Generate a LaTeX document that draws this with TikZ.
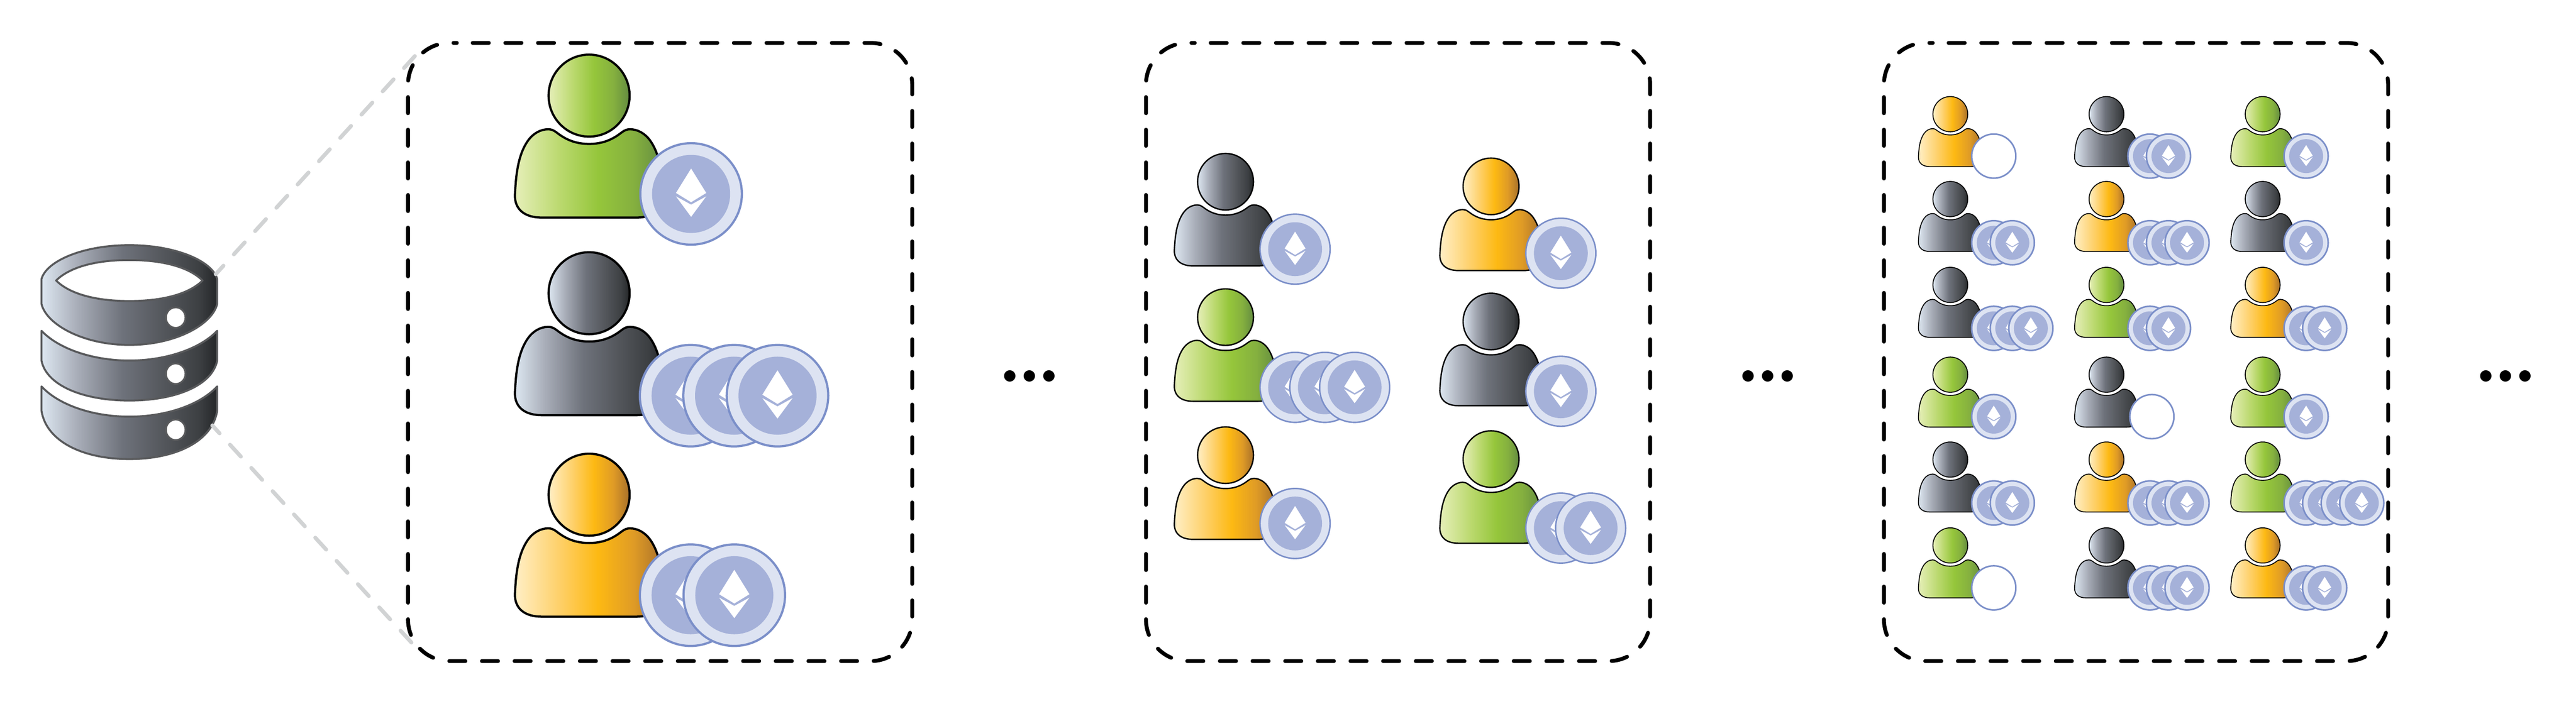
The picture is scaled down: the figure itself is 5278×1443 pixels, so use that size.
\documentclass[tikz,border=0pt]{standalone}
\definecolor{gyA}{HTML}{DDE7F1}\definecolor{gyB}{HTML}{A9AEB9}\definecolor{gyC}{HTML}{6E727B}\definecolor{gyD}{HTML}{53565B}\definecolor{gyE}{HTML}{3C3F42}\definecolor{gyF}{HTML}{242628}
\definecolor{grA}{HTML}{E6EFB9}\definecolor{grB}{HTML}{BBD96F}\definecolor{grC}{HTML}{95C63B}\definecolor{grD}{HTML}{85B03F}\definecolor{grE}{HTML}{638C40}
\definecolor{orA}{HTML}{FFEFC6}\definecolor{orB}{HTML}{FED069}\definecolor{orC}{HTML}{FDB913}\definecolor{orD}{HTML}{DF9B26}\definecolor{orE}{HTML}{A8702A}
\definecolor{coinrim}{HTML}{DDE3F2}\definecolor{coinmid}{HTML}{A5B1D9}\definecolor{coinline}{HTML}{7B8FC9}
\definecolor{dbline}{HTML}{58595B}\definecolor{linkgrey}{HTML}{D1D3D4}
\pgfdeclarehorizontalshading{shgray}{100bp}{color(0bp)=(gyA);color(25bp)=(gyA);color(35bp)=(gyB);color(48bp)=(gyC);color(60bp)=(gyD);color(70bp)=(gyE);color(75bp)=(gyF);color(100bp)=(gyF)}
\pgfdeclarehorizontalshading{shgreen}{100bp}{color(0bp)=(grA);color(25bp)=(grA);color(40bp)=(grB);color(53bp)=(grC);color(65bp)=(grD);color(75bp)=(grE);color(100bp)=(grE)}
\pgfdeclarehorizontalshading{shorange}{100bp}{color(0bp)=(orA);color(25bp)=(orA);color(40bp)=(orB);color(53bp)=(orC);color(65bp)=(orD);color(75bp)=(orE);color(100bp)=(orE)}
\tikzset{
  panelbox/.style={draw=black,line width=0.08cm,line cap=round,dash pattern=on 0.33cm off 0.3385cm,dash phase=0.344cm,rounded corners=0.85cm},
  linkline/.style={draw=linkgrey,line width=0.08cm,line cap=round,dash pattern=on 0.33cm off 0.316cm},
  dbpart/.style={shading=shgray,draw=dbline,line width=0.04cm,line join=round},
  dbhole/.style={fill=white,draw=dbline,line width=0.035cm},
  dotstext/.style={inner sep=0pt,font=\fontsize{46}{46}\selectfont\bfseries}
}
% person: head centre x, y, scale, shading, line width (px)
\newcommand{\person}[5]{%
  \begin{scope}[shift={(#1,#2)},scale=#3]
    \path[shading=#4,draw=black,line width=#5*0.01cm,line join=round]
      (-66,76) .. controls (-48,90) and (-28,99) .. (0,99)
      .. controls (28,99) and (48,90) .. (66,76)
      .. controls (74,70) and (78,69) .. (84,69)
      .. controls (100,69) and (115,78) .. (125,92)
      .. controls (145,120) and (150,160) .. (152,205)
      .. controls (152,235) and (130,250) .. (97,250)
      -- (-97,250)
      .. controls (-130,250) and (-152,235) .. (-152,205)
      .. controls (-150,160) and (-145,120) .. (-125,92)
      .. controls (-115,78) and (-100,69) .. (-84,69)
      .. controls (-78,69) and (-74,70) .. (-66,76) -- cycle;
    \path[shading=#4,draw=black,line width=#5*0.01cm] (0,0) ellipse[x radius=83,y radius=84];
  \end{scope}}
% coin with the ether mark
\newcommand{\coin}[4]{%
  \begin{scope}[shift={(#1,#2)},scale=#3]
    \path[fill=coinrim,draw=coinline,line width=#4*0.01cm] (0,0) circle[radius=104];
    \fill[coinmid] (0,0) circle[radius=80];
    \fill[white] (0,-52) -- (31,-2) -- (0,17) -- (-31,-2) -- cycle;
    \fill[white] (-31,5) -- (0,22) -- (31,5) -- (0,47) -- cycle;
  \end{scope}}
\newcommand{\emptycoin}[4]{%
  \path[fill=white,draw=coinline,line width=#4*0.01cm] (#1,#2) circle[radius=104*#3];}
% stack: x, y, scale, line width, step, count
\newcommand{\coins}[6]{%
  \foreach \ci in {1,...,#6}{\pgfmathsetmacro{\cx}{#1+(\ci-1)*#5}\coin{\cx}{#2}{#3}{#4}}}
\newcommand{\panel}[1]{%
  \path[panelbox] (#1+100,88) -- (#1+1033,88) -- (#1+1033,1355) -- (#1,1355) -- (#1,88) -- (#1+100,88);}
\newcommand{\minip}[5]{% x,y head, shading, coin y, n
  \person{#1}{#2}{0.43}{#3}{1.9}
  \coins{#1+89}{#4}{0.435}{3.2}{38}{#5}}
\newcommand{\minipnone}[5]{%
  \person{#1}{#2}{0.43}{#3}{1.9}
  \emptycoin{#1+#5}{#4}{0.435}{3.2}}
\begin{document}
\begin{tikzpicture}[x=0.01cm,y=-0.01cm]
\useasboundingbox (0,0) rectangle (5278,1443);
\fill[white] (0,0) rectangle (5278,1443);
% database
\path[dbpart] (85,572) -- (85,623) .. controls (95,665) and (170,707) .. (265,707) .. controls (360,707) and (435,665) .. (445,623) -- (445,572) .. controls (435,535) and (360,502.5) .. (265,502.5) .. controls (170,502.5) and (95,535) .. (85,572) -- cycle;
\path[fill=white,draw=dbline,line width=0.04cm,line join=round] (115,575) .. controls (140,550) and (190,533) .. (265,533) .. controls (340,533) and (390,550) .. (415,575) .. controls (390,600) and (340,617) .. (265,617) .. controls (190,617) and (140,600) .. (115,575) -- cycle;
\path[dbhole] (360,651) ellipse[x radius=20,y radius=21];
\path[dbpart] (85,678) -- (85,739) .. controls (95,790) and (170,821) .. (265,821) .. controls (360,821) and (435,790) .. (445,739) -- (445,678) .. controls (410,715) and (340,739) .. (265,739) .. controls (190,739) and (120,715) .. (85,678) -- cycle;
\path[dbhole] (360,766) ellipse[x radius=20,y radius=21];
\path[dbpart] (85,792) -- (85,842) .. controls (95,905) and (170,941) .. (265,941) .. controls (360,941) and (435,905) .. (445,842) -- (445,792) .. controls (410,830) and (340,854) .. (265,854) .. controls (190,854) and (120,830) .. (85,792) -- cycle;
\path[dbhole] (360,881) ellipse[x radius=20,y radius=21];
% panels
\panel{836}\panel{2348}\panel{3860}
% links
\coordinate (dbtop) at (442,562);
\coordinate (dbbot) at (435,872);
\coordinate (boxtop) at (850,115);
\coordinate (boxbot) at (843,1317);
\path[linkline] (boxtop) -- (dbtop);
\path[linkline] (boxbot) -- (dbbot);
% panel 1
\person{1207}{196}{1}{shgreen}{4.5}
\coins{1416}{397.5}{1}{4.5}{89}{1}
\person{1207}{601}{1}{shgray}{4.5}
\coins{1415}{811}{1}{4.5}{89}{3}
\person{1207}{1014}{1}{shorange}{4.5}
\coins{1415}{1220}{1}{4.5}{89.5}{2}
% panel 2
\person{2511}{372.5}{0.69}{shgray}{2.8}
\coins{2653.5}{510.7}{0.69}{3}{61}{1}
\person{2511}{650}{0.69}{shgreen}{2.8}
\coins{2653.5}{794}{0.69}{3}{61}{3}
\person{2511}{933}{0.69}{shorange}{2.8}
\coins{2653.5}{1073}{0.69}{3}{61}{1}
\person{3055}{382}{0.69}{shorange}{2.8}
\coins{3198}{519}{0.69}{3}{61}{1}
\person{3055}{659}{0.69}{shgray}{2.8}
\coins{3198}{802}{0.69}{3}{61}{1}
\person{3055}{941}{0.69}{shgreen}{2.8}
\coins{3198}{1082.5}{0.69}{3}{61}{2}
% panel 3
\minipnone{3996}{234}{shorange}{320}{89}
\minip{3996}{408}{shgray}{497.6}{2}
\minip{3996}{584}{shgray}{673}{3}
\minip{3996}{768}{shgreen}{854}{1}
\minip{3996}{942}{shgray}{1031}{2}
\minipnone{3996}{1118}{shgreen}{1205}{89}
\minip{4316}{234}{shgray}{320}{2}
\minip{4316}{408}{shorange}{497.6}{3}
\minip{4316}{584}{shgreen}{673}{2}
\minipnone{4316}{768}{shgray}{854}{93}
\minip{4316}{942}{shorange}{1031}{3}
\minip{4316}{1118}{shgray}{1205}{3}
\minip{4636}{234}{shgreen}{320}{1}
\minip{4636}{408}{shgray}{497.6}{1}
\minip{4636}{584}{shorange}{673}{2}
\minip{4636}{768}{shgreen}{854}{1}
\minip{4636}{942}{shgreen}{1031}{4}
\minip{4636}{1118}{shorange}{1205}{2}
% ellipses
\node[dotstext] (more1) at (2110,771) {.\kern-3pt.\kern-3pt.};
\node[dotstext] (more2) at (3622,771) {.\kern-3pt.\kern-3pt.};
\node[dotstext] (more3) at (5134,771) {.\kern-3pt.\kern-3pt.};
\end{tikzpicture}
\end{document}
